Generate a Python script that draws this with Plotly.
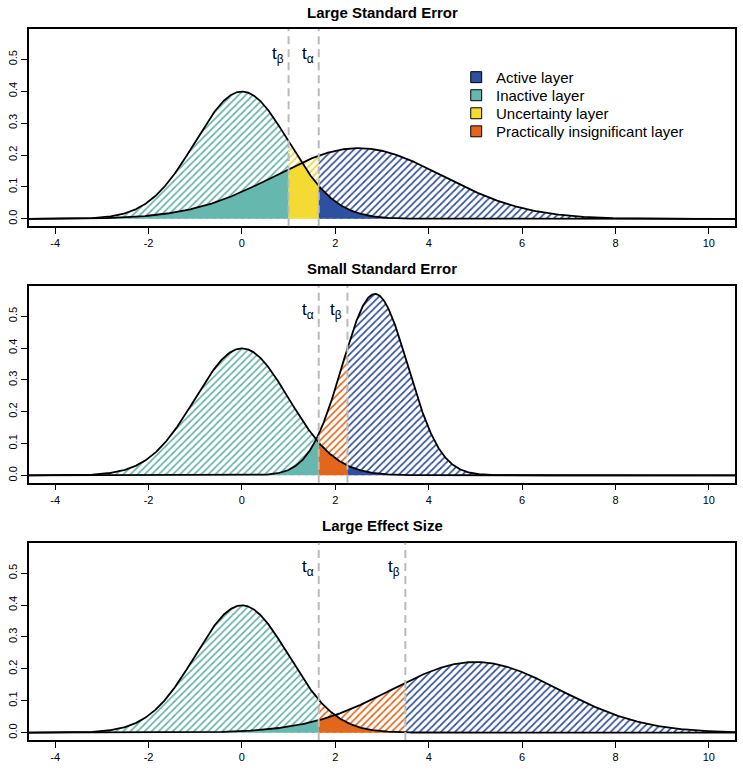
import numpy as np
import plotly.graph_objects as go

# ---------------- data ----------------
panel_titles = ["Large Standard Error", "Small Standard Error", "Large Effect Size"]
null_mean = [0.0, 0.0, 0.0]
null_sd = [1.0, 1.0, 1.0]
alt_mean = [2.5, 2.85, 5.0]
alt_sd = [1.8, 0.7, 1.8]
t_alpha = [1.645, 1.645, 1.645]
t_beta = [1.0, 2.26, 3.5]
middle_layer = ["Uncertainty layer", "Practically insignificant layer", "Practically insignificant layer"]
layer_names = ["Active layer", "Inactive layer", "Uncertainty layer", "Practically insignificant layer"]
x_ticks = [-4, -2, 0, 2, 4, 6, 8, 10]
y_ticks = [0.0, 0.1, 0.2, 0.3, 0.4, 0.5]

# ---------------- styles ----------------
solid_colors = {
    "Active layer": "#2D50A0",
    "Inactive layer": "#66B8AE",
    "Uncertainty layer": "#F3DB33",
    "Practically insignificant layer": "#E2661B",
}
hatch_colors = {
    "Active layer": "#2F4E98",
    "Inactive layer": "#62B2A8",
    "Uncertainty layer": "#F0D630",
    "Practically insignificant layer": "#E2661B",
}
x_limits = [-4.56, 10.56]
y_limits = [-0.023, 0.595]
domains = [[0.7227, 1.0], [0.3619, 0.6386], [0.0, 0.2773]]


def dnorm(x, m, s):
    return np.exp(-0.5 * ((x - m) / s) ** 2) / (s * np.sqrt(2 * np.pi))


fig = go.Figure()
shapes = []
annotations = []

for i in range(3):
    xa = "x" if i == 0 else f"x{i+1}"
    ya = "y" if i == 0 else f"y{i+1}"
    lo = min(t_alpha[i], t_beta[i])
    hi = max(t_alpha[i], t_beta[i])
    segments = [
        (x_limits[0], lo, "Inactive layer"),
        (lo, hi, middle_layer[i]),
        (hi, x_limits[1], "Active layer"),
    ]
    for a, b, name in segments:
        xs = np.linspace(a, b, 400)
        y0 = dnorm(xs, null_mean[i], null_sd[i])
        y1 = dnorm(xs, alt_mean[i], alt_sd[i])
        fig.add_trace(go.Scatter(
            x=xs, y=np.maximum(y0, y1), xaxis=xa, yaxis=ya,
            mode="lines", line=dict(width=0), fill="tozeroy",
            fillcolor="rgba(255,255,255,0)",
            fillpattern=dict(shape="/", fgcolor=hatch_colors[name], bgcolor="white",
                             size=5, solidity=0.34, fillmode="replace"),
            showlegend=False, hoverinfo="skip"))
    for a, b, name in segments:
        xs = np.linspace(a, b, 400)
        y0 = dnorm(xs, null_mean[i], null_sd[i])
        y1 = dnorm(xs, alt_mean[i], alt_sd[i])
        fig.add_trace(go.Scatter(
            x=xs, y=np.minimum(y0, y1), xaxis=xa, yaxis=ya,
            mode="lines", line=dict(width=0), fill="tozeroy",
            fillcolor=solid_colors[name], showlegend=False, hoverinfo="skip"))
    xs = np.linspace(x_limits[0], x_limits[1], 1200)
    fig.add_trace(go.Scatter(x=xs, y=dnorm(xs, null_mean[i], null_sd[i]), xaxis=xa, yaxis=ya,
                             mode="lines", line=dict(color="black", width=1.8),
                             showlegend=False, hoverinfo="skip"))
    fig.add_trace(go.Scatter(x=xs, y=dnorm(xs, alt_mean[i], alt_sd[i]), xaxis=xa, yaxis=ya,
                             mode="lines", line=dict(color="black", width=1.8),
                             showlegend=False, hoverinfo="skip"))

    for tv, lab in [(t_alpha[i], "t<sub>α</sub>"), (t_beta[i], "t<sub>β</sub>")]:
        shapes.append(dict(type="line", xref=xa, yref=f"{ya} domain", x0=tv, x1=tv, y0=0, y1=1,
                           line=dict(color="#BBBBBB", width=2, dash="8px,5px"), layer="above"))
        annotations.append(dict(x=tv, y=0.515, xref=xa, yref=ya, text=lab, showarrow=False,
                                xanchor="right", yanchor="middle", xshift=-3,
                                font=dict(family="Arial", size=17, color="black")))
    annotations.append(dict(x=0.5, y=1, xref=f"{xa} domain", yref=f"{ya} domain",
                            text=f"<b>{panel_titles[i]}</b>", showarrow=False,
                            xanchor="center", yanchor="middle", yshift=17,
                            font=dict(family="Arial", size=15, color="black")))

    axis_common = dict(showline=True, mirror=True, linecolor="black", linewidth=1.5,
                       showgrid=False, zeroline=False, ticks="outside", ticklen=6,
                       tickwidth=1.2, tickcolor="black",
                       tickfont=dict(family="Arial", size=11, color="black"))
    fig.layout[f"xaxis{'' if i == 0 else i+1}"] = dict(
        axis_common, domain=[0, 1], anchor=ya, range=x_limits,
        tickmode="array", tickvals=x_ticks, ticktext=[str(v) for v in x_ticks])
    fig.layout[f"yaxis{'' if i == 0 else i+1}"] = dict(
        axis_common, domain=domains[i], anchor=xa, range=y_limits,
        tickmode="array", tickvals=y_ticks, ticktext=[f"{v:.1f}" for v in y_ticks],
        tickangle=-90)

# legend drawn in panel 1 (positions as fractions of the panel's domain)
legend_box_x = [0.6257, 0.6412]
legend_text_x = 0.659
legend_row_y = [0.7557, 0.6641, 0.5726, 0.4810]
legend_half_h = 0.0278
for name, ry in zip(layer_names, legend_row_y):
    shapes.append(dict(type="rect", xref="x domain", yref="y domain",
                       x0=legend_box_x[0], x1=legend_box_x[1],
                       y0=ry - legend_half_h, y1=ry + legend_half_h,
                       fillcolor=solid_colors[name], line=dict(color="black", width=1),
                       layer="above"))
    annotations.append(dict(x=legend_text_x, y=ry, xref="x domain", yref="y domain",
                            text=name, showarrow=False, xanchor="left", yanchor="middle",
                            font=dict(family="Arial", size=15, color="black")))

fig.update_layout(
    width=743, height=769,
    margin=dict(l=29, r=6, t=29, b=27),
    paper_bgcolor="white", plot_bgcolor="white",
    shapes=shapes, annotations=annotations,
    showlegend=False,
)

fig.write_html("out.html", config={"displayModeBar": False},
               post_script="document.body.style.margin='0px';document.body.style.overflow='hidden';")
